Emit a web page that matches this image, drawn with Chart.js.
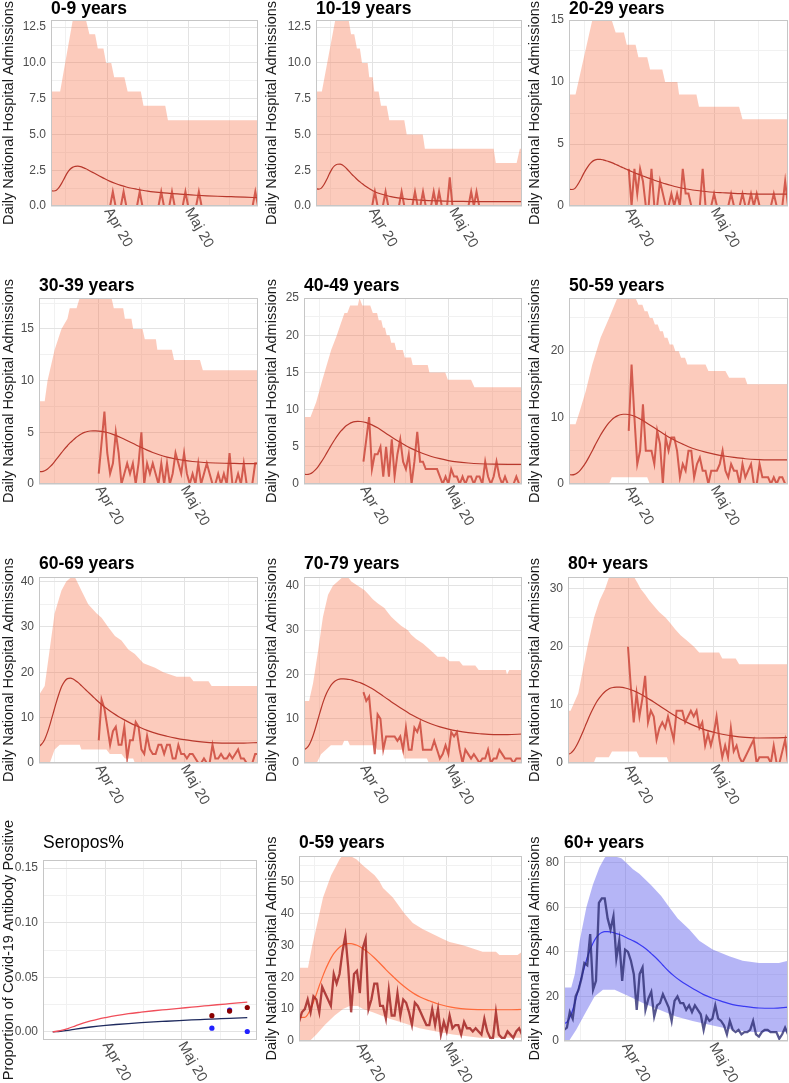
<!DOCTYPE html>
<html>
<head>
<meta charset="utf-8">
<script src="https://cdn.jsdelivr.net/npm/chart.js@4.4.1/dist/chart.umd.min.js"></script>
<style>
  body { margin: 0; background: #fff; width: 789px; height: 1083px; position: relative; overflow: hidden; }
  canvas { position: absolute; }
</style>
</head>
<body>
<script>
// days counted from 1 March 2020 (31 = 1 Apr, 61 = 1 May)
const xMin = 10, xMax = 87;
const xGrid = [15.5, 31, 46, 61, 76.5];
const xMajor = [31, 61];
const xLabels = ['Apr 20', 'Maj 20'];

const fitDays = [10,11,12,13,14,15,16,17,18,19,20,21,22,23,24,25,26,27,28,29,30,32,34,36,38,40,42,44,46,48,50,52,55,58,61,64,68,72,77,82,87];

const fit09   = [1.07,1.05,1.1,1.3,1.6,1.95,2.3,2.55,2.7,2.77,2.78,2.75,2.68,2.6,2.5,2.4,2.3,2.2,2.1,2.0,1.9,1.72,1.57,1.44,1.33,1.24,1.17,1.1,1.04,0.99,0.95,0.92,0.87,0.83,0.79,0.75,0.71,0.68,0.65,0.62,0.58];
const fit1019 = [1.2,1.18,1.25,1.5,1.85,2.25,2.6,2.82,2.92,2.93,2.85,2.7,2.5,2.3,2.1,1.92,1.75,1.6,1.45,1.32,1.2,1.0,0.86,0.75,0.65,0.58,0.53,0.48,0.45,0.42,0.4,0.38,0.36,0.34,0.33,0.32,0.31,0.31,0.3,0.3,0.3];
const fit2029 = [1.35,1.33,1.4,1.7,2.1,2.55,2.95,3.3,3.55,3.7,3.76,3.76,3.72,3.65,3.58,3.5,3.4,3.3,3.19,3.08,2.98,2.78,2.59,2.42,2.25,2.08,1.93,1.78,1.65,1.53,1.43,1.35,1.25,1.17,1.11,1.07,1.02,0.99,0.96,0.95,0.95];
const fit3039 = [1.2,1.2,1.28,1.45,1.7,2.0,2.35,2.7,3.05,3.4,3.7,4.0,4.25,4.5,4.7,4.87,5.0,5.08,5.13,5.15,5.15,5.1,4.98,4.8,4.58,4.33,4.07,3.8,3.53,3.28,3.05,2.85,2.6,2.42,2.28,2.18,2.08,2.03,2.0,1.97,1.97];
const fit4049 = [1.3,1.28,1.35,1.55,1.9,2.35,2.9,3.5,4.15,4.8,5.45,6.05,6.6,7.1,7.5,7.85,8.1,8.28,8.38,8.42,8.4,8.25,7.95,7.55,7.05,6.55,6.05,5.6,5.15,4.75,4.4,4.1,3.7,3.4,3.15,2.97,2.82,2.72,2.66,2.64,2.65];
const fit5059 = [1.4,1.38,1.45,1.7,2.1,2.65,3.3,4.05,4.85,5.7,6.5,7.3,8.0,8.65,9.2,9.65,10.0,10.25,10.42,10.5,10.5,10.35,10.0,9.55,9.0,8.45,7.9,7.35,6.85,6.4,6.0,5.6,5.15,4.8,4.5,4.25,4.0,3.8,3.68,3.62,3.62];
const fit6069 = [3.6,4.2,5.2,6.8,8.8,11.0,13.2,15.2,16.9,18.0,18.6,18.7,18.5,18.1,17.6,17.0,16.4,15.8,15.2,14.6,14.0,12.9,11.9,11.0,10.2,9.5,8.85,8.25,7.7,7.2,6.75,6.35,5.9,5.5,5.15,4.88,4.6,4.45,4.4,4.4,4.5];
const fit7079 = [3.0,3.4,4.3,5.8,7.8,10.0,12.2,14.2,15.8,17.0,17.9,18.5,18.85,19.0,19.0,18.95,18.85,18.7,18.5,18.3,18.1,17.5,16.8,16.0,15.1,14.2,13.3,12.5,11.7,10.9,10.2,9.6,8.8,8.15,7.65,7.25,6.85,6.6,6.42,6.42,6.55];
const fit80   = [1.5,1.7,2.2,3.0,4.0,5.1,6.3,7.5,8.6,9.6,10.5,11.2,11.8,12.3,12.65,12.9,13.0,13.05,13.05,13.0,12.9,12.6,12.2,11.7,11.1,10.5,9.85,9.2,8.55,7.95,7.4,6.9,6.25,5.7,5.3,4.95,4.62,4.42,4.3,4.32,4.4];
const fit059  = [7.5,7.4,7.4,8.3,10.0,12.2,14.7,17.3,19.8,22.1,24.1,25.9,27.4,28.5,29.4,30.0,30.4,30.5,30.5,30.3,30.0,29.0,27.7,26.1,24.3,22.4,20.6,18.9,17.3,15.9,14.7,13.7,12.6,11.6,10.9,10.4,10.0,9.85,9.8,9.8,9.9];
const fit60p  = [7.8,8.5,10.5,14,18.5,23.5,28.5,33,37.5,41,44,46.3,47.8,48.7,49.1,49.1,48.9,48.6,48.2,47.8,47.3,46.0,44.8,43.3,41.5,39.2,36.8,34.0,31.3,29.0,27.0,25.3,23.0,20.8,19.2,17.9,16.3,15.5,14.8,14.7,15.2];

// observed daily admissions, age groups from 1 April
const obs09   = [0,0,1,0,0,0,1,0,0,0, 0,0,1,0,0,0,0,0,0,0, 1,0,0,0,1,0,0,0,0,1, 0,0,0,0,1,0,0,0,0,0, 0,0,0,0,0,0,0,0,0,0, 0,0,0,0,0,1,0];
const obs1019 = [0,1,0,0,0,1,0,0,0,0, 0,1,0,0,0,0,1,0,0,1, 0,0,0,1,0,1,0,0,0,2, 0,0,0,0,0,0,0,1,0,1, 0,0,0,0,0,0,0,0,0,0, 0,0,0,0,0,0,0];
const obs2029 = [3,0,3,1,3,2,0,0,3,0, 0,2,1,0,0,1,0,1,0,3, 1,1,0,0,0,0,3,0,0,0, 1,0,0,0,0,0,1,0,0,0, 1,0,0,1,0,1,0,0,0,0, 0,1,0,0,0,2,0];
const obs3039 = [1,4,7,3,1,2,5,3,0,1, 2,1,2,0,2,5,0,2,1,2, 1,0,2,0,2,0,1,3,2,1, 3,1,0,1,0,2,0,1,2,1, 0,0,1,0,1,0,3,0,0,1, 0,2,0,0,0,2,2];
const obs4049 = [3,6,9,2,4,4,5,1,5,1, 6,1,4,6,3,2,4,0,3,7, 3,3,2,2,2,2,2,1,0,1, 0,2,1,1,0,1,0,1,1,0, 1,1,0,3,1,0,1,3,1,0, 1,0,0,0,1,0,0];
const obs5059 = [8,18,10,3,5,12,5,5,5,3, 8,6,0,7,5,7,7,5,1,3, 2,5,5,1,3,4,2,2,0,2, 2,2,3,5,2,1,3,2,2,0, 3,1,2,3,0,0,3,1,1,1, 0,1,0,1,1,0,0];
const obs6069 = [5,14,12,8,4,7,8,4,4,8, 1,5,5,9,8,3,2,6,3,2, 2,4,4,2,4,4,1,1,4,2, 2,1,2,2,1,0,0,1,0,0, 4,1,1,2,1,1,2,1,2,3, 1,1,0,0,0,2,2];
const obs7079 = [16,14,15,8,2,11,10,3,6,6, 6,6,5,6,3,8,3,3,8,7, 9,3,3,3,3,5,3,1,2,4, 2,7,6,7,3,0,3,2,1,2, 1,0,1,1,3,0,1,1,3,2, 1,1,1,0,1,1,1];
const obs80   = [20,13,7,12,8,11,15,7,9,8, 4,6,7,6,8,6,4,9,9,9, 7,8,9,8,9,6,7,3,5,3, 5,8,4,1,3,1,6,2,3,1, 0,1,2,3,4,0,1,1,1,1, 0,3,0,0,2,4,0];
// aggregated groups from 11 March
const obs059  = [6,9,10,13,9,14,13,9,17,15, 13,11,21,18,21,28,33,23,9,21, 22,15,29,32,10,13,18,18,11,11, 7,16,8,8,15,8,13,12,9,5, 12,11,9,7,5,5,10,5,10,2, 6,3,8,4,5,5,2,6,4,4, 3,4,3,2,7,3,1,1,9,2, 1,1,3,2,1,3,4,2];
const obs60p  = [5,6,13,10,20,23,28,35,34,48, 23,27,62,64,64,55,50,56,37,45, 27,41,40,36,30,14,30,33,14,19, 22,11,16,17,21,18,15,9,18,20, 17,17,14,16,13,16,14,12,5,11, 9,10,16,10,9,7,3,9,5,4, 5,3,4,4,5,9,3,2,4,5, 5,4,4,4,1,3,6,3];

// credible band edges as [day, value]
const lo0     = [[10,0],[87,0]];
const up09    = [[10,8],[13.4,8],[18.1,13],[23,13],[24.3,12],[26.4,12],[27.4,11],[29.5,11],[30.5,10],[32.4,10],[33.5,9],[37.3,9],[38.5,8],[43.4,8],[44.4,7],[52.5,7],[53.5,6],[87,6]];
const up1019  = [[10,8],[12.2,8],[17.2,13],[22.2,13],[23.1,12],[24.3,12],[25.3,11],[26.4,11],[27.2,10],[29.3,10],[29.9,9],[31.2,9],[31.8,8],[33.4,8],[34.3,7],[36.4,7],[37.4,6],[43,6],[43.9,5],[49.9,5],[50.7,4],[76.4,4],[77.2,3],[85,3],[86.2,4],[87,4]];
const up2029  = [[10,9],[12.3,9],[18.2,15],[25,15],[26.4,14],[29.3,14],[30.3,13],[33.4,13],[34.4,12],[37.5,12],[38.5,11],[42.8,11],[43.8,10],[48.1,10],[48.7,9],[54.8,9],[55.7,8],[69.8,8],[71,7],[87,7]];
const up3039  = [[10,8],[12,8],[13,10],[15.5,13],[17.9,15],[20,16],[20.8,17],[23.2,17],[24.3,18],[35.5,18],[36.3,17],[39.6,17],[40.2,16],[42.5,16],[43.1,15],[46.4,15],[47.2,14],[51.1,14],[51.6,13],[56.7,13],[57.5,12],[66.6,12],[67.6,11],[87,11]];
const up4049  = [[10,9],[12.3,9],[14.3,11],[16.5,14],[19.6,18],[21.6,20],[22.5,21],[23.4,22],[24.3,23],[25.3,23],[26.3,24],[29,24],[29.6,25],[30.6,24],[33.4,24],[34.3,23],[35.8,23],[36.4,22],[37.3,22],[37.9,21],[38.6,21],[39.2,20],[40.2,20],[40.8,19],[42,19],[42.6,18],[44.9,18],[45.6,17],[47.8,17],[48.4,16],[53.7,16],[54.3,15],[59.9,15],[60.8,14],[69,14],[70.2,13],[87,13]];
const up5059  = [[10,9],[12.3,9],[13.8,11],[15.9,14],[18.2,18],[21.1,22],[24.1,25],[27,28],[33.4,28],[34.4,27],[35.8,27],[36.6,26],[37.6,26],[38.4,25],[39.4,25],[40.2,24],[41.2,24],[42,23],[43,23],[43.6,22],[44.6,22],[45.4,21],[46.6,21],[47.4,20],[48.6,20],[49.4,19],[50.8,19],[51.6,18],[58,18],[59,17],[65,17],[66.3,16],[71.9,16],[72.7,15],[87,15]];
const lo5059  = [[10,0],[24.1,0],[25,1],[37.5,1],[38.4,0],[87,0]];
const up6069  = [[10,15],[12,17],[15.5,33],[17.9,38],[19.6,40],[21.4,41],[22.6,41],[24.9,38],[27.3,35],[30.2,33],[32,32],[34.3,30],[36.7,28],[39,27],[41.4,25],[43.7,24],[46.7,22],[50.8,21],[53.7,20],[58.4,19],[63.1,19],[64.3,18],[69.6,18],[70.7,17],[87,17]];
const lo6069  = [[10,0],[13.8,0],[15.5,3],[17.3,4],[24.3,4],[24.9,3],[33.7,3],[34.9,2],[39,2],[40.2,1],[43.1,1],[43.7,0],[87,0]];
const up7079  = [[10,14],[11.8,14],[13.2,18],[14.9,25],[16.7,33],[18.5,38],[20.2,40],[23.7,42],[25.5,42],[26.7,41],[29,40],[31.4,39],[32.9,38],[34.3,37],[36.1,36],[38.4,35],[39.6,34],[40.8,33],[42.5,32],[44.3,31],[46.7,30],[47.8,29],[49.6,28],[52,27],[53.7,26],[55.5,25],[57.2,24],[59.6,24],[61.4,23],[64.9,23],[66.1,22],[70.5,22],[71.7,21],[81.3,21],[81.7,20],[82.5,21],[87,21]];
const lo7079  = [[10,0],[14.5,0],[16,2],[19.5,4],[23.5,4],[24.2,5],[25.5,5],[26.2,4],[35,4],[35.8,3],[44.6,3],[45.3,1],[53.4,1],[54.1,0],[87,0]];
const up80    = [[10,9],[10.9,9],[13.6,12],[16.8,20],[19.1,25],[21.1,28],[23,30],[24.4,32],[33.1,32],[34.3,31],[35.4,30],[37,29],[38.4,28],[40.1,27],[41.9,26],[44.2,25],[45.9,24],[47.5,23],[49.4,22],[51.8,21],[54.1,20],[55.9,19],[62.9,19],[64,18],[68.7,18],[69.9,17],[87,17]];
const lo80    = [[10,0],[19,0],[19.8,1],[24.3,1],[25.4,2],[34,2],[35,1],[44.6,1],[45.3,0],[87,0]];
const up059   = [[10,23],[13.1,23],[14.6,30],[16.6,38],[18.3,45],[21.1,52],[22.9,55],[24,57],[24.9,58],[27.7,58],[29.8,57],[32.1,55],[36.1,52],[37.8,50],[39,48],[42.4,45],[46.4,40],[49.3,37],[52.8,35],[55.1,34],[57.4,33],[59.7,32],[62,31],[66.6,30],[70,29],[73.4,28],[78,28],[79.2,27],[85.5,27],[87,28]];
const lo059   = [[10,0],[13.7,0],[16,2],[18.9,5],[22.3,8],[25.2,10],[27.5,11],[30.3,11],[32.1,10],[35.5,9],[38.4,8],[41.3,7],[44.7,6],[48.2,5],[51.6,4],[57.4,3],[63.1,2],[72.3,1],[87,1]];
const up60p   = [[10,24],[12.5,24],[13.7,30],[15.4,45],[17.7,60],[19.9,70],[22.2,78],[23.9,82],[24.5,83],[27,83],[29.7,82],[31.4,80],[33.7,77],[35.9,75],[39.9,70],[43.4,65],[46.2,60],[49.1,55],[53.1,50],[56.5,45],[61.1,41],[66.8,38],[71.4,36],[77.1,35],[83.9,35],[87,36]];
const lo60p   = [[10,0],[11.7,0],[14.2,5],[17.1,12],[20.5,20],[23.4,23],[27.4,23],[29.1,22],[32.5,20],[37.1,17],[42.8,14],[48.5,11],[54.2,9],[61.1,7],[68,5],[74.8,4],[87,4]];

// seroprevalence
const seroDays = [10,13,16,19,22,25,28,31,35,40,45,50,55,60,65,70,75,80,87];
const seroHigh = [0,0.001,0.003,0.0055,0.008,0.01,0.0117,0.0131,0.0148,0.0166,0.018,0.0193,0.0204,0.0215,0.0226,0.0237,0.0248,0.0258,0.0272];
const seroLow  = [0,0.0005,0.0014,0.0025,0.0035,0.0044,0.0052,0.0059,0.0067,0.0076,0.0084,0.0091,0.0097,0.0103,0.0109,0.0114,0.0119,0.0124,0.013];
const surveyDays = [73, 80, 87];
const surveyRed  = [0.0148, 0.019, 0.0223];
const surveyBlue = [0.0033, 0.0199, 0.0003];

// y tick marks and labels
const yT13 = [0,2.5,5,7.5,10,12.5], yL13 = ['0.0','2.5','5.0','7.5','10.0','12.5'];
const yT15 = [0,5,10,15], yL15 = ['0','5','10','15'];
const yT25 = [0,5,10,15,20,25], yL25 = ['0','5','10','15','20','25'];
const yT20 = [0,10,20], yL20 = ['0','10','20'];
const yT40 = [0,10,20,30,40], yL40 = ['0','10','20','30','40'];
const yT30 = [0,10,20,30], yL30 = ['0','10','20','30'];
const yT50 = [0,10,20,30,40,50], yL50 = ['0','10','20','30','40','50'];
const yT80 = [0,20,40,60,80], yL80 = ['0','20','40','60','80'];
const yTS = [0,0.05,0.1,0.15], yLS = ['0.00','0.05','0.10','0.15'];

const FONT = '"Liberation Sans", Arial, Helvetica, sans-serif';
const admTitle = 'Daily National Hospital Admissions';

const themes = {
    age:   { band: 'rgba(246,118,78,0.38)', fit: '#b8382c', obs: 'rgba(200,62,50,0.8)', obsW: 2 },
    young: { band: 'rgba(246,118,78,0.38)', fit: '#ff6a3a', obs: 'rgba(160,32,32,0.82)', obsW: 2.3 },
    old:   { band: 'rgba(92,92,236,0.45)', fit: '#3a3af2', obs: 'rgba(45,45,115,0.8)', obsW: 2.3 }
};

const panels = [
    { title: '0-9 years',   yMax: 13, yT: yT13, yL: yL13, obs: obs09,   fit: fit09,   up: up09,   lo: lo0 },
    { title: '10-19 years', yMax: 13, yT: yT13, yL: yL13, obs: obs1019, fit: fit1019, up: up1019, lo: lo0 },
    { title: '20-29 years', yMax: 15, yT: yT15, yL: yL15, obs: obs2029, fit: fit2029, up: up2029, lo: lo0 },
    { title: '30-39 years', yMax: 18, yT: yT15, yL: yL15, obs: obs3039, fit: fit3039, up: up3039, lo: lo0 },
    { title: '40-49 years', yMax: 25, yT: yT25, yL: yL25, obs: obs4049, fit: fit4049, up: up4049, lo: lo0 },
    { title: '50-59 years', yMax: 28, yT: yT20, yL: yL20, obs: obs5059, fit: fit5059, up: up5059, lo: lo5059 },
    { title: '60-69 years', yMax: 41, yT: yT40, yL: yL40, obs: obs6069, fit: fit6069, up: up6069, lo: lo6069 },
    { title: '70-79 years', yMax: 42, yT: yT40, yL: yL40, obs: obs7079, fit: fit7079, up: up7079, lo: lo7079 },
    { title: '80+ years',   yMax: 32, yT: yT30, yL: yL30, obs: obs80,   fit: fit80,   up: up80,   lo: lo80 },
    { title: 'Seropos%', sero: true },
    { title: '0-59 years', yMax: 58, yT: yT50, yL: yL50, obs: obs059, obsStart: 10, fit: fit059, up: up059, lo: lo059, theme: 'young' },
    { title: '60+ years',  yMax: 83, yT: yT80, yL: yL80, obs: obs60p, obsStart: 10, fit: fit60p, up: up60p, lo: lo60p, theme: 'old' }
];

// page layout: cell origin and plot rectangle [left, top, right, bottom]
const cells = [[0,0],[263,0],[526,0],[0,270],[263,270],[526,270],[0,540],[263,540],[526,540],[0,810],[263,810],[526,810]];
const boxes = [[51,20,258,206],[316,20,522,206],[569,20,788,206],
               [39,298,258,484],[304,298,522,484],[569,298,788,484],
               [39,577,258,763],[304,577,522,763],[568,577,788,763],
               [43,860,257,1040],[299,856,522,1041],[564,856,788,1041]];
const titleMid = [7.5, 286, 564.5, 843];

Chart.defaults.font.family = FONT;
Chart.defaults.color = '#4d4d4d';

const zip = (xs, ys) => xs.map((x, i) => ({ x, y: ys[i] }));
const daily = (start, ys) => ys.map((y, i) => ({ x: start + i, y }));
const pts = arr => arr.map(([x, y]) => ({ x, y }));

function gridVals(majors, min, max) {
    const step = majors[1] - majors[0];
    const out = [];
    for (let v = majors[0] - step / 2; v <= max + 1e-9; v += step / 2) {
        if (v >= min - 1e-9) out.push(+v.toFixed(6));
    }
    return out;
}

const deco = {
    id: 'deco',
    afterDatasetsDraw(chart) {
        const { ctx, chartArea: a } = chart;
        ctx.save();
        ctx.strokeStyle = '#c6c6c6';
        ctx.lineWidth = 1;
        ctx.strokeRect(a.left + 0.5, a.top + 0.5, a.width - 1, a.height - 1);
        ctx.restore();
    },
    afterDraw(chart) {
        const { ctx, chartArea: a, scales: { x } } = chart;
        ctx.save();
        ctx.fillStyle = '#4d4d4d';
        ctx.font = '14.5px ' + FONT;
        ctx.textAlign = 'left';
        ctx.textBaseline = 'middle';
        xMajor.forEach((d, i) => {
            ctx.save();
            ctx.translate(x.getPixelForValue(d), a.bottom + 3);
            ctx.rotate(Math.PI / 3);
            ctx.fillText(xLabels[i], 0, 0);
            ctx.restore();
        });
        ctx.restore();
    }
};

function buildPanel(p, i) {
    const [cx, cy] = cells[i];
    const cw = 263, ch = i >= 9 ? 273 : 270;
    const [L, T, R, B] = boxes[i];
    const row = Math.floor(i / 3);
    const canvas = document.createElement('canvas');
    canvas.width = cw; canvas.height = ch;
    canvas.style.left = cx + 'px'; canvas.style.top = cy + 'px';
    canvas.style.width = cw + 'px'; canvas.style.height = ch + 'px';
    document.body.appendChild(canvas);

    const tSize = 17.5;
    const padTop = Math.max(0, titleMid[row] - tSize / 2 - cy);
    const tGap = T - cy - padTop - tSize;

    let datasets, yMin, yMax, majors, labels, xLo = xMin, xHi = xMax, yTitle = admTitle;
    if (p.sero) {
        const ext = (xMax - xMin) * 0.05;
        xLo = xMin - ext; xHi = xMax + ext;
        yMin = -0.0075; yMax = 0.1575; majors = yTS; labels = yLS;
        yTitle = 'Proportion of Covid-19 Antibody Positive';
        datasets = [
            { data: zip(surveyDays, surveyRed), showLine: false, pointRadius: 2.6, pointBackgroundColor: '#8b0000', pointBorderWidth: 0 },
            { data: zip(surveyDays, surveyBlue), showLine: false, pointRadius: 2.6, pointBackgroundColor: '#2222ff', pointBorderWidth: 0 },
            { data: zip(seroDays, seroHigh), borderColor: '#f04e5a', borderWidth: 1.3, pointRadius: 0, cubicInterpolationMode: 'monotone' },
            { data: zip(seroDays, seroLow), borderColor: '#1e2a5e', borderWidth: 1.3, pointRadius: 0, cubicInterpolationMode: 'monotone' }
        ];
    } else {
        const th = themes[p.theme || 'age'];
        yMin = 0; yMax = p.yMax; majors = p.yT; labels = p.yL;
        datasets = [
            { data: daily(p.obsStart || 31, p.obs), borderColor: th.obs, borderWidth: th.obsW, pointRadius: 0, tension: 0 },
            { data: zip(fitDays, p.fit), borderColor: th.fit, borderWidth: 1.2, pointRadius: 0, cubicInterpolationMode: 'monotone' },
            { data: pts(p.up), borderColor: 'rgba(0,0,0,0)', borderWidth: 0, backgroundColor: th.band, fill: '+1', pointRadius: 0 },
            { data: pts(p.lo), borderColor: 'rgba(0,0,0,0)', borderWidth: 0, fill: false, pointRadius: 0 }
        ];
    }
    datasets.forEach(d => { d.clip = 0; });

    const isMajor = v => majors.some(m => Math.abs(m - v) < 1e-6);
    const yVals = gridVals(majors, yMin, yMax);
    const isXMajor = v => xMajor.includes(v);

    new Chart(canvas, {
        type: 'line',
        data: { datasets },
        options: {
            responsive: false,
            animation: false,
            devicePixelRatio: 1,
            layout: { autoPadding: false, padding: { top: padTop, left: 0, right: cx + cw - R, bottom: 0 } },
            plugins: {
                legend: { display: false },
                tooltip: { enabled: false },
                title: {
                    display: true, text: p.title, align: 'start', fullSize: false, color: '#000',
                    font: { size: tSize, weight: p.sero ? 'normal' : 'bold', lineHeight: 1 },
                    padding: { top: 0, bottom: tGap }
                }
            },
            scales: {
                x: {
                    type: 'linear', min: xLo, max: xHi,
                    afterBuildTicks: s => { s.ticks = xGrid.map(v => ({ value: v })); },
                    afterFit: s => { s.height = cy + ch - B; },
                    ticks: { display: false, autoSkip: false },
                    grid: { drawTicks: false, color: c => isXMajor(c.tick.value) ? '#e3e3e3' : '#f1f1f1' },
                    border: { display: false }
                },
                y: {
                    type: 'linear', min: yMin, max: yMax,
                    afterBuildTicks: s => { s.ticks = yVals.map(v => ({ value: v })); },
                    afterFit: s => { s.width = L - cx; },
                    ticks: {
                        autoSkip: false, padding: 5, color: '#4d4d4d', font: { size: 12 },
                        callback: v => { const k = majors.findIndex(m => Math.abs(m - v) < 1e-6); return k < 0 ? '' : labels[k]; }
                    },
                    grid: { drawTicks: false, color: c => isMajor(c.tick.value) ? '#e3e3e3' : '#f1f1f1' },
                    border: { display: false },
                    title: { display: true, text: yTitle, color: '#1a1a1a', font: { size: 14.5 }, padding: { top: 0, bottom: 0 } }
                }
            }
        },
        plugins: [deco]
    });
}

panels.forEach(buildPanel);
</script>
</body>
</html>
